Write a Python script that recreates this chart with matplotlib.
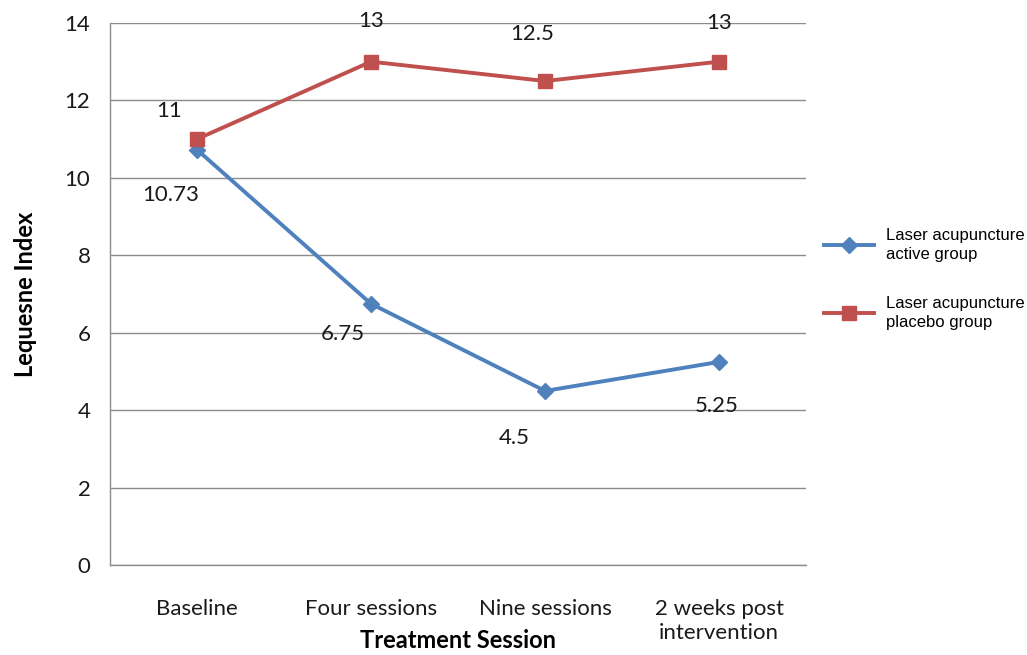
import matplotlib
matplotlib.use("Agg")
import matplotlib.pyplot as plt

sessions = ["Baseline", "Four sessions", "Nine sessions", "2 weeks post\nintervention"]
active = [10.73, 6.75, 4.5, 5.25]
placebo = [11, 13, 12.5, 13]
active_label = "Laser acupuncture\nactive group"
placebo_label = "Laser acupuncture\nplacebo group"

# label offsets (points) for the data labels
active_off = [(-19, -33), (-20, -22), (-22, -34), (-2, -32)]
placebo_off = [(-20, 20), (0, 29), (-9, 34), (0, 28)]

BLUE = "#4F81BD"
RED = "#C0504D"
GRID = "#8c8c8c"
FONT = ["Lato", "DejaVu Sans"]

fig = plt.figure(figsize=(10.27, 6.55), dpi=100)
ax = fig.add_axes([0.107, 0.137, 0.678, 0.828])

x = list(range(len(sessions)))
ax.plot(x, active, color=BLUE, lw=2.8, marker="D", ms=8,
        label=active_label, zorder=3)
ax.plot(x, placebo, color=RED, lw=2.8, marker="s", ms=10,
        label=placebo_label, zorder=3)

for xi, v, off in zip(x, active, active_off):
    ax.annotate(f"{v:g}", (xi, v), xytext=off, textcoords="offset points",
                ha="center", va="center", fontsize=16, family=FONT, color="#1a1a1a")
for xi, v, off in zip(x, placebo, placebo_off):
    ax.annotate(f"{v:g}", (xi, v), xytext=off, textcoords="offset points",
                ha="center", va="center", fontsize=16, family=FONT, color="#1a1a1a")

ax.set_xlim(-0.5, 3.5)
ax.set_ylim(0, 14)
ax.set_yticks(range(0, 15, 2))
ax.set_xticks(x)
ax.set_xticklabels(sessions, family=FONT, fontsize=16, color="#1a1a1a", linespacing=1.25)
for lab in ax.get_yticklabels():
    lab.set_family(FONT)
    lab.set_fontsize(16)
    lab.set_color("#1a1a1a")
ax.tick_params(length=0, pad=14)
ax.tick_params(axis="x", pad=24)
ax.yaxis.grid(True, color=GRID, lw=1)
ax.set_axisbelow(True)
for side in ("top", "right"):
    ax.spines[side].set_visible(False)
for side in ("left", "bottom"):
    ax.spines[side].set_color(GRID)
    ax.spines[side].set_linewidth(1)

ax.set_xlabel("Treatment Session", family=FONT, fontsize=17, fontweight="bold")
ax.xaxis.set_label_coords(0.5, -0.118)
ax.set_ylabel("Lequesne Index", family=FONT, fontsize=17, fontweight="bold", labelpad=20)

leg = fig.legend(loc="center left", bbox_to_anchor=(0.788, 0.574), frameon=False,
                 prop={"family": "Liberation Sans", "size": 12}, labelspacing=2.0,
                 handlelength=3.0, handletextpad=0.7)
for t in leg.get_texts():
    t.set_linespacing(1.35)

fig.savefig("out.png", dpi=100)
